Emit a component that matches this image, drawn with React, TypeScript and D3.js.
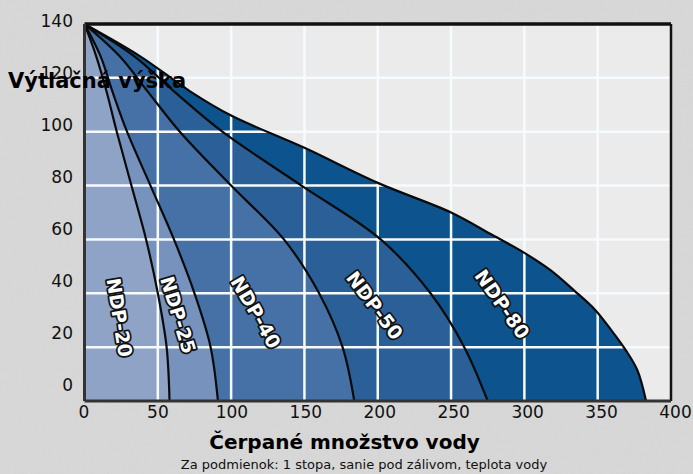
import React from "react";
import { scaleLinear, line, curveCatmullRom } from "d3";

// pump curves: flow (x) vs head (y)
const pumpNames = ["NDP-20", "NDP-25", "NDP-40", "NDP-50", "NDP-80"];
const ndp20Flow = [0, 8, 15, 22, 32, 42, 50, 56, 58];
const ndp20Head = [140, 128, 115, 100, 80, 60, 40, 20, 0];
const ndp25Flow = [0, 11, 19, 29, 45, 61, 75, 86, 91];
const ndp25Head = [140, 128, 115, 100, 80, 60, 40, 20, 0];
const ndp40Flow = [0, 24, 43, 65, 100, 136, 160, 176, 184];
const ndp40Head = [140, 128, 115, 100, 80, 60, 40, 20, 0];
const ndp50Flow = [0, 34, 61, 94, 148, 202, 236, 259, 275];
const ndp50Head = [140, 128, 115, 100, 80, 60, 40, 20, 0];
const ndp80Flow = [0, 38, 72, 100, 150, 200, 250, 277, 300, 318, 334, 348, 359, 369, 377, 383];
const ndp80Head = [140, 128, 115, 106, 94, 81, 70, 62, 55, 48.5, 41, 34, 26.5, 19, 11.5, 0];

// where each name sits inside its band
const labelFlow = [24, 64, 117, 198, 285];
const labelHead = [31, 32, 33, 35.5, 36];

const flowTicks = [0, 50, 100, 150, 200, 250, 300, 350, 400];
const headTicks = [0, 20, 40, 60, 80, 100, 120, 140];

const yTitle = "Výtlačná výška";
const xTitle = "Čerpané množstvo vody";
const note = "Za podmienok: 1 stopa, sanie pod zálivom, teplota vody";

const W = 693;
const H = 474;
const bandColors = ["#8ea3c6", "#7892be", "#4571a7", "#2b5f98", "#0d538d"];
const labelAngles = [81, 73, 60, 53, 55];

export default function App() {
  const x = scaleLinear().domain([0, 400]).range([84.5, 671]);
  const y = scaleLinear().domain([0, 140]).range([401, 24]);
  // tick labels in the picture drift a bit from the grid
  const xLab = scaleLinear().domain([0, 400]).range([84, 675.5]);
  const yLab = scaleLinear().domain([0, 140]).range([384.5, 21]);

  const flows = [ndp20Flow, ndp25Flow, ndp40Flow, ndp50Flow, ndp80Flow];
  const heads = [ndp20Head, ndp25Head, ndp40Head, ndp50Head, ndp80Head];
  const series = flows.map((f, i) => f.map((q, j) => [q, heads[i][j]] as [number, number]));

  const gen = line<[number, number]>()
    .x((d) => x(d[0]))
    .y((d) => y(d[1]))
    .curve(curveCatmullRom.alpha(0.5));

  const font = "'DejaVu Sans', Verdana, sans-serif";

  return (
    <svg width={W} height={H} style={{ position: "absolute", left: 0, top: 0 }}>
      <defs>
        <filter id="grain" x="0" y="0" width="100%" height="100%">
          <feTurbulence type="fractalNoise" baseFrequency="0.75" numOctaves="2" seed="3" />
          <feColorMatrix type="matrix" values="0 0 0 0 0.5  0 0 0 0 0.5  0 0 0 0 0.5  0 0 0 0.35 0" />
        </filter>
        <clipPath id="plot">
          <rect x={x(0)} y={y(140)} width={x(400) - x(0)} height={y(0) - y(140)} />
        </clipPath>
      </defs>

      <rect width={W} height={H} fill="#d9d9d9" />
      <rect width={W} height={H} filter="url(#grain)" opacity={0.45} />

      <rect x={x(0)} y={y(140)} width={x(400) - x(0)} height={y(0) - y(140)} fill="#ebebeb" />

      <g clipPath="url(#plot)">
        {series
          .map((pts, i) => (
            <path
              key={pumpNames[i]}
              d={`${gen(pts)}L${x(0)},${y(0)}Z`}
              fill={bandColors[i]}
            />
          ))
          .reverse()}

        {flowTicks.slice(1, -1).map((t) => (
          <line key={"gx" + t} x1={x(t)} x2={x(t)} y1={y(140)} y2={y(0)} stroke="#f6fbff" strokeWidth={2.5} />
        ))}
        {headTicks.slice(1, -1).map((t) => (
          <line key={"gy" + t} x1={x(0)} x2={x(400)} y1={y(t)} y2={y(t)} stroke="#f6fbff" strokeWidth={2.5} />
        ))}

        {series.map((pts, i) => (
          <path key={"c" + i} d={gen(pts) || ""} fill="none" stroke="#0a0a0a" strokeWidth={2.2} />
        ))}
      </g>

      {/* frame */}
      <line x1={x(0)} x2={x(400)} y1={y(140)} y2={y(140)} stroke="#111" strokeWidth={3.5} />
      <line x1={x(400)} x2={x(400)} y1={y(140)} y2={y(0)} stroke="#111" strokeWidth={2.5} />
      <line x1={x(0)} x2={x(0)} y1={y(140)} y2={y(0)} stroke="#333" strokeWidth={3} />
      <line x1={x(0)} x2={x(400)} y1={y(0)} y2={y(0)} stroke="#333" strokeWidth={3} />

      {pumpNames.map((name, i) => {
        const cx = x(labelFlow[i]);
        const cy = y(labelHead[i]);
        return (
          <text
            key={"l" + name}
            x={cx}
            y={cy}
            transform={`rotate(${labelAngles[i]},${cx},${cy})`}
            textAnchor="middle"
            dominantBaseline="central"
            fontFamily={font}
            fontWeight="bold"
            fontSize={19}
            fill="#ffffff"
            stroke="#111"
            strokeWidth={3.5}
            strokeLinejoin="round"
            style={{ paintOrder: "stroke" }}
          >
            {name}
          </text>
        );
      })}

      {headTicks.map((t) => (
        <text key={"yt" + t} x={73} y={yLab(t) + 6.2} textAnchor="end" fontFamily={font} fontSize={17} fill="#111">
          {t}
        </text>
      ))}
      {flowTicks.map((t) => (
        <text key={"xt" + t} x={xLab(t)} y={418} textAnchor="middle" fontFamily={font} fontSize={17} fill="#111">
          {t}
        </text>
      ))}

      <text x={8} y={88} fontFamily={font} fontWeight="bold" fontSize={21} fill="#000">
        {yTitle}
      </text>
      <text x={344.5} y={449} textAnchor="middle" fontFamily={font} fontWeight="bold" fontSize={20} fill="#000">
        {xTitle}
      </text>
      <text x={364} y={469} textAnchor="middle" fontFamily={font} fontSize={13} fill="#111">
        {note}
      </text>
    </svg>
  );
}
